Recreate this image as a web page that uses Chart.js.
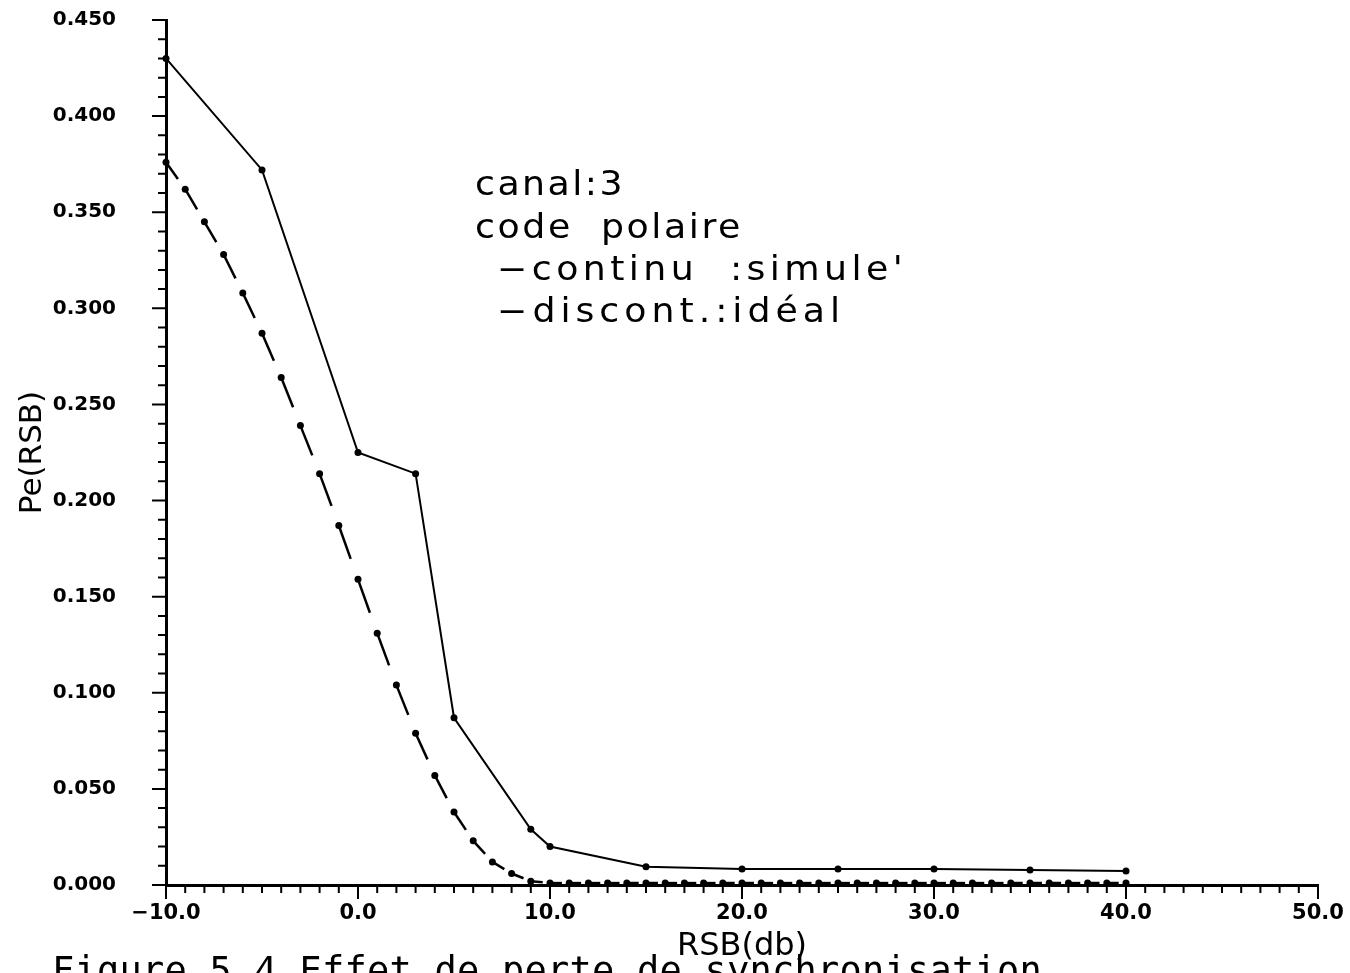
<!DOCTYPE html>
<html lang="fr">
<head>
<meta charset="utf-8">
<title>Effet de perte de synchronisation</title>
<script src="https://cdn.jsdelivr.net/npm/chart.js@4.4.0/dist/chart.umd.min.js"></script>
<style>
  html, body { margin: 0; padding: 0; background: #fff; }
  #cadre { width: 1350px; height: 973px; position: relative; }
</style>
</head>
<body>
<div id="cadre"><canvas id="graphe"></canvas></div>
<script>
// Courbe continue (simulée) : RSB en dB -> Pe
const rsbContinu = [-10, -5, 0, 3, 5, 9, 10, 15, 20, 25, 30, 35, 40];
const peContinu = [0.430, 0.372, 0.225, 0.214, 0.087, 0.029, 0.020, 0.0095, 0.0083, 0.0083, 0.0083, 0.0078, 0.0073];

// Courbe discontinue (idéale), un point par dB
const rsbDiscont = [-10, -9, -8, -7, -6, -5, -4, -3, -2, -1, 0, 1, 2, 3, 4, 5, 6, 7, 8, 9,
  10, 11, 12, 13, 14, 15, 16, 17, 18, 19, 20, 21, 22, 23, 24, 25, 26, 27, 28, 29,
  30, 31, 32, 33, 34, 35, 36, 37, 38, 39, 40];
const peDiscont = [0.376, 0.362, 0.345, 0.328, 0.308, 0.287, 0.264, 0.239, 0.214, 0.187,
  0.159, 0.131, 0.104, 0.079, 0.057, 0.038, 0.023, 0.012, 0.006, 0.002,
  0.001, 0.001, 0.001, 0.001, 0.001, 0.001, 0.001, 0.001, 0.001, 0.001,
  0.001, 0.001, 0.001, 0.001, 0.001, 0.001, 0.001, 0.001, 0.001, 0.001,
  0.001, 0.001, 0.001, 0.001, 0.001, 0.001, 0.001, 0.001, 0.001, 0.001, 0.001];

// Etiquettes des axes
const xTicks = ['\u221210.0', '0.0', '10.0', '20.0', '30.0', '40.0', '50.0'];
const yTicks = ['0.000', '0.050', '0.100', '0.150', '0.200', '0.250', '0.300', '0.350', '0.400', '0.450'];

const notes = ['canal:3', 'code  polaire', '\u2212continu  :simule\'', '\u2212discont.:id\u00e9al'];
const legende = 'Figure 5.4 Effet de perte de synchronisation';

function points(xs, ys) {
  return xs.map((x, i) => ({ x: x, y: ys[i] }));
}

// écrit un texte élargi (glyphes étirés + espacement) sur une largeur donnée
function texteEtire(ctx, t, x, y, largeur, etirement) {
  ctx.save();
  ctx.translate(x, y);
  ctx.scale(etirement, 1);
  ctx.letterSpacing = '0px';
  const w = ctx.measureText(t).width;
  ctx.letterSpacing = Math.max(0, (largeur / etirement - w) / t.length) + 'px';
  ctx.fillText(t, 0, 0);
  ctx.restore();
}

// Graduations (majeures plus longues) + textes libres
const traitsEtTextes = {
  id: 'traitsEtTextes',
  afterDraw(chart) {
    const ctx = chart.ctx;
    const sx = chart.scales.x;
    const sy = chart.scales.y;
    const zone = chart.chartArea;
    ctx.save();
    ctx.strokeStyle = '#000';
    ctx.lineWidth = 2;
    ctx.beginPath();
    for (let i = 0; i <= 45; i++) {
      const py = sy.getPixelForValue(i / 100);
      const lg = i % 5 === 0 ? 14 : 8;
      ctx.moveTo(zone.left - lg, py);
      ctx.lineTo(zone.left, py);
    }
    for (let i = -10; i <= 50; i++) {
      const px = sx.getPixelForValue(i);
      const lg = i % 10 === 0 ? 14 : 8;
      ctx.moveTo(px, zone.bottom);
      ctx.lineTo(px, zone.bottom + lg);
    }
    ctx.stroke();

    // bloc de texte dans le graphe
    ctx.fillStyle = '#000';
    ctx.textBaseline = 'alphabetic';
    ctx.textAlign = 'left';
    ctx.font = '33px "DejaVu Sans"';
    const xs = [475, 475, 497, 497];
    const bases = [195, 238, 280, 322];
    const larg = [150, 268, 410, 348];
    notes.forEach((t, i) => texteEtire(ctx, t, xs[i], bases[i], larg[i], 1.1));

    // légende de la figure, en bas (coupée par le bord)
    ctx.font = '37px "DejaVu Sans Mono"';
    texteEtire(ctx, legende, 52, 983, 990, 1);
    ctx.restore();
  }
};

const policeTicksY = { family: 'DejaVu Sans', size: 20, weight: 'bold' };
const policeTicksX = { family: 'DejaVu Sans', size: 21, weight: 'bold' };

new Chart(document.getElementById('graphe'), {
  type: 'scatter',
  data: {
    datasets: [
      {
        label: 'continu : simulé',
        data: points(rsbContinu, peContinu),
        showLine: true,
        borderColor: '#000',
        backgroundColor: '#000',
        borderWidth: 2,
        pointRadius: 3.5,
        pointBorderWidth: 0,
        tension: 0,
        clip: false
      },
      {
        label: 'discont. : idéal',
        data: points(rsbDiscont, peDiscont),
        showLine: true,
        borderColor: '#000',
        backgroundColor: '#000',
        borderWidth: 2.5,
        pointRadius: 3.5,
        pointBorderWidth: 0,
        tension: 0,
        clip: false,
        segment: {
          // un tiret par intervalle, départ sur chaque point
          borderDash: c => {
            const l = Math.hypot(c.p1.x - c.p0.x, c.p1.y - c.p0.y);
            return [l * 0.62, l * 0.38];
          }
        }
      }
    ]
  },
  options: {
    responsive: true,
    maintainAspectRatio: false,
    animation: false,
    layout: { padding: { top: 20, right: 32, left: 0, bottom: 0 } },
    plugins: {
      legend: { display: false },
      tooltip: { enabled: false }
    },
    scales: {
      x: {
        type: 'linear',
        min: -10,
        max: 50,
        afterFit: s => {
          s.height = 88;
          s.paddingLeft = 0;
          s.paddingRight = 0;
        },
        grid: { display: false, drawTicks: false },
        border: { display: true, color: '#000', width: 3 },
        ticks: {
          stepSize: 10,
          padding: 16,
          color: '#000',
          font: policeTicksX,
          maxRotation: 0,
          autoSkip: false,
          callback: (v, i) => xTicks[i]
        },
        title: {
          display: true,
          text: 'RSB(db)',
          color: '#000',
          font: { family: 'DejaVu Sans', size: 32 },
          padding: { top: 0, bottom: 7 }
        }
      },
      y: {
        type: 'linear',
        min: 0,
        max: 0.45,
        afterFit: s => {
          s.width = 166;
          s.paddingTop = 0;
          s.paddingBottom = 0;
        },
        grid: { display: false, drawTicks: false },
        border: { display: true, color: '#000', width: 3 },
        ticks: {
          stepSize: 0.05,
          padding: 50,
          color: '#000',
          font: policeTicksY,
          callback: (v, i) => yTicks[i]
        },
        title: {
          display: true,
          text: 'Pe(RSB)',
          color: '#000',
          font: { family: 'DejaVu Sans', size: 31 },
          padding: { top: 14, bottom: 0 }
        }
      }
    }
  },
  plugins: [traitsEtTextes]
});
</script>
</body>
</html>
